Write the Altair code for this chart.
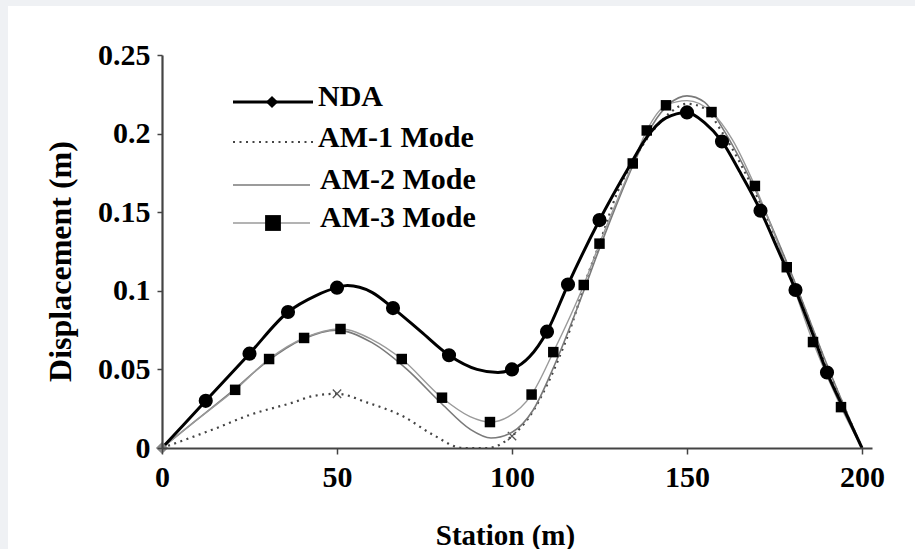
import altair as alt
import pandas as pd

# ---------------- data ----------------
# NDA (solid black curve)
nda_x = [0, 12.5, 25, 36, 44, 50, 53, 60, 66, 74, 82, 90, 96, 100, 105, 110, 116, 125, 134, 138, 144, 150, 155, 160, 165, 171, 176, 181, 186, 190, 195, 200]
nda_y = [0, 0.030, 0.060, 0.0865, 0.097, 0.102, 0.1033, 0.099, 0.089, 0.074, 0.059, 0.050, 0.048, 0.050, 0.058, 0.074, 0.104, 0.145, 0.181, 0.196, 0.210, 0.2135, 0.207, 0.195, 0.176, 0.151, 0.126, 0.1005, 0.072, 0.048, 0.024, 0]
nda_mx = [12.5, 25, 36, 50, 66, 82, 100, 110, 116, 125, 150, 160, 171, 181, 190]
nda_my = [0.030, 0.060, 0.0865, 0.102, 0.089, 0.059, 0.050, 0.074, 0.104, 0.145, 0.2135, 0.195, 0.151, 0.1005, 0.048]

# AM-1 Mode (dotted)
am1_x = [0, 15.6, 25, 37.5, 43, 50, 58.5, 69, 77.5, 86, 93, 100, 105, 110, 113, 117, 121, 125, 130, 135, 140, 145, 150, 155, 160, 170, 180, 190, 200]
am1_y = [0, 0.0127, 0.021, 0.029, 0.033, 0.0345, 0.029, 0.020, 0.0083, 0.0, 0.0, 0.0076, 0.020, 0.040, 0.055, 0.078, 0.106, 0.130, 0.162, 0.184, 0.201, 0.213, 0.219, 0.216, 0.201, 0.160, 0.109, 0.052, 0]
am1_mx = [50, 100]
am1_my = [0.0345, 0.0076]

# AM-2 Mode (thin grey)
am2_x = [0, 10, 20, 30, 40, 50, 60, 70, 80, 88, 94, 100, 106, 112, 120, 125, 135, 140, 145, 150, 155, 160, 170, 180, 190, 200]
am2_y = [0, 0.018, 0.036, 0.055, 0.069, 0.075, 0.067, 0.050, 0.028, 0.012, 0.0064, 0.010, 0.024, 0.052, 0.097, 0.127, 0.182, 0.205, 0.219, 0.224, 0.220, 0.204, 0.162, 0.110, 0.053, 0]

# AM-3 Mode (light grey with squares)
am3_x = [0, 10, 20.9, 30.6, 40.6, 51, 60, 68.5, 80, 88, 93.7, 99, 105.6, 111.8, 120.5, 125, 134.5, 138.5, 144, 150, 157, 163, 169.4, 178.5, 186, 194, 200]
am3_y = [0, 0.018, 0.037, 0.0566, 0.070, 0.0757, 0.069, 0.0566, 0.032, 0.020, 0.0165, 0.020, 0.034, 0.061, 0.1037, 0.130, 0.181, 0.202, 0.218, 0.221, 0.2137, 0.196, 0.1667, 0.115, 0.0674, 0.026, 0]
am3_mx = [20.9, 30.6, 40.6, 51, 68.5, 80, 93.7, 105.6, 111.8, 120.5, 125, 134.5, 138.5, 144, 157, 169.4, 178.5, 186, 194]
am3_my = [0.037, 0.0566, 0.070, 0.0757, 0.0566, 0.032, 0.0165, 0.034, 0.061, 0.1037, 0.130, 0.181, 0.202, 0.218, 0.2137, 0.1667, 0.115, 0.0674, 0.026]

origin_x = [0]
origin_y = [0]

x_ticks = [0, 50, 100, 150, 200]
y_ticks = [0, 0.05, 0.1, 0.15, 0.2, 0.25]
legend_labels = ["NDA", "AM-1 Mode", "AM-2 Mode", "AM-3 Mode"]

# ---------------- build tables ----------------
def df(xs, ys):
    return pd.DataFrame({"x": xs, "y": ys})

FONT = "Liberation Serif, Times New Roman, DejaVu Serif, serif"
W, H = 710, 393

xscale = alt.Scale(domain=[0, 202.857], nice=False, zero=False)
yscale = alt.Scale(domain=[0, 0.25], nice=False)

xaxis = alt.Axis(values=x_ticks, format="d", grid=False, labelFlush=False, labelOverlap=False,
                 labelFont=FONT, labelFontSize=30, labelFontWeight="bold", labelColor="black",
                 labelPadding=8, domainColor="#444", domainWidth=2.2, tickColor="#444",
                 tickWidth=1.5, tickSize=6, title="Station (m)", titleFont=FONT,
                 titleFontSize=29, titleFontWeight="bold", titleColor="black",
                 titleX=343, titleY=87, titleBaseline="middle", titleAlign="center", zindex=1)
yaxis = alt.Axis(values=y_ticks, format="~g", grid=False, labelOverlap=False,
                 labelFont=FONT, labelFontSize=30, labelFontWeight="bold", labelColor="black",
                 labelPadding=7, domainColor="#444", domainWidth=2.2, tickColor="#444",
                 tickWidth=1.5, tickSize=5, title="Displacement (m)", titleFont=FONT,
                 titleFontSize=32, titleFontWeight="bold", titleColor="black",
                 titleX=-102, titleY=206, titleAngle=-90, titleBaseline="middle",
                 titleAlign="center", zindex=1)

X = alt.X("x:Q", scale=xscale, axis=xaxis)
Y = alt.Y("y:Q", scale=yscale, axis=yaxis)
Xn = alt.X("x:Q", scale=xscale)
Yn = alt.Y("y:Q", scale=yscale)

bg = alt.Chart(pd.DataFrame({"k": [0]})).mark_rect(color="white").encode(
    x=alt.value(-154), x2=alt.value(753), y=alt.value(-49), y2=alt.value(494))

line_am1 = alt.Chart(df(am1_x, am1_y)).mark_line(
    color="#444", strokeWidth=2.2, strokeDash=[2, 4.5], interpolate="monotone").encode(x=X, y=Y)
pts_am1 = alt.Chart(df(am1_mx, am1_my)).mark_point(
    shape="M-1,-1L1,1M-1,1L1,-1", filled=False, color="#555", strokeWidth=1.3, size=70,
    opacity=1).encode(x=Xn, y=Yn)

line_am2 = alt.Chart(df(am2_x, am2_y)).mark_line(
    color="#7a7a7a", strokeWidth=1.6, interpolate="monotone").encode(x=Xn, y=Yn)

line_am3 = alt.Chart(df(am3_x, am3_y)).mark_line(
    color="#9a9a9a", strokeWidth=1.4, interpolate="monotone").encode(x=Xn, y=Yn)
pts_am3 = alt.Chart(df(am3_mx, am3_my)).mark_point(
    shape="square", filled=True, color="black", size=110, opacity=1).encode(x=Xn, y=Yn)

line_nda = alt.Chart(df(nda_x, nda_y)).mark_line(
    color="black", strokeWidth=3, interpolate="monotone").encode(x=Xn, y=Yn)
pts_nda = alt.Chart(df(nda_mx, nda_my)).mark_point(
    shape="circle", filled=True, color="black", size=200, opacity=1).encode(x=Xn, y=Yn)

pts_origin = alt.Chart(df(origin_x, origin_y)).mark_point(
    shape="diamond", filled=True, color="#8a8a8a", size=150, opacity=1).encode(x=Xn, y=Yn)

# ---------------- legend (drawn inside the plot) ----------------
leg = pd.DataFrame({"label": legend_labels})
def leg_data(i):
    return leg.iloc[[i]]

leg_rows_y = [47, 87, 130, 168]
leg_text_y = [50.5, 92, 133.5, 172]
leg_text_x = [156, 156, 158, 158]
leg_line_x2 = [151, 153, 148, 148]
leg_styles = [
    dict(color="black", strokeWidth=3),
    dict(color="#444", strokeWidth=2.2, strokeDash=[2, 4.5]),
    dict(color="#7a7a7a", strokeWidth=1.6),
    dict(color="#9a9a9a", strokeWidth=1.4),
]

legend_layers = []
for i in range(4):
    legend_layers.append(
        alt.Chart(leg_data(i)).mark_rule(**leg_styles[i]).encode(
            x=alt.value(71), x2=alt.value(leg_line_x2[i]), y=alt.value(leg_rows_y[i])))
    legend_layers.append(
        alt.Chart(leg_data(i)).mark_text(
            font=FONT, fontSize=30, fontWeight="bold", color="black", align="left",
            baseline="alphabetic").encode(
            x=alt.value(leg_text_x[i]), y=alt.value(leg_text_y[i]), text="label:N"))

legend_layers.append(
    alt.Chart(leg_data(0)).mark_point(shape="diamond", filled=True, color="black", size=150,
                                      opacity=1).encode(x=alt.value(110), y=alt.value(47)))
legend_layers.append(
    alt.Chart(leg_data(3)).mark_point(shape="square", filled=True, color="black", size=250,
                                      opacity=1).encode(x=alt.value(111), y=alt.value(168)))

chart = alt.layer(
    bg, line_am1, pts_am1, line_am2, line_am3, pts_am3, line_nda, pts_nda, pts_origin,
    *legend_layers
).properties(
    width=W, height=H,
    autosize=alt.AutoSizeParams(type="none"),
    padding={"left": 162, "top": 55, "right": 43, "bottom": 101},
    background="#eff1f4",
).configure_view(stroke=None)

chart.save("out.html", embed_options={"renderer": "svg", "actions": False})
